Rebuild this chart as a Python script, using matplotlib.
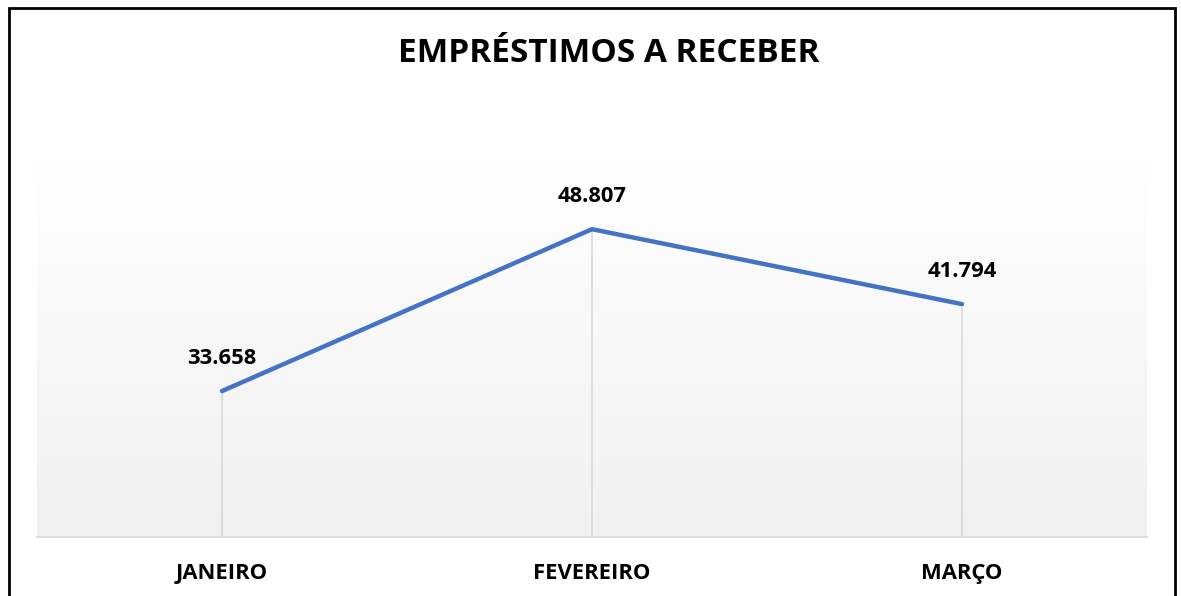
import numpy as np
import matplotlib
matplotlib.use('Agg')
import matplotlib.pyplot as plt
from matplotlib.patches import Rectangle

# ── Data ─────────────────────────────────────────────────────────────────────
meses   = ['JANEIRO', 'FEVEREIRO', 'MARÇO']
valores = [33658, 48807, 41794]
rotulos = ['33.658', '48.807', '41.794']

plt.rcParams['font.family'] = ['Open Sans', 'DejaVu Sans']

W, H = 1181, 596
fig = plt.figure(figsize=(W / 100, H / 100), dpi=100)
ax = fig.add_axes([37 / W, 59 / H, 1110 / W, 374 / H])

x = np.arange(len(meses))
ax.set_xlim(-0.5, len(meses) - 0.5)
ax.set_ylim(20000, 55000)

# gradient background (white top -> light gray bottom)
grad = np.linspace(0, 1, 256)[:, None]
cols = np.ones((256, 1, 3))
cols[:, 0, :] = (1 - grad) * 1.0 + grad * (240 / 255)
ax.imshow(cols, extent=[-0.5, len(meses) - 0.5, 20000, 55000],
          aspect='auto', origin='upper', zorder=0)

# drop lines
ax.vlines(x, 20000, valores, color='#d9d9d9', lw=1.2, zorder=1)
ax.plot(x, valores, color='#4472C4', lw=3.2, solid_capstyle='round',
        solid_joinstyle='round', zorder=3)

for xi, v, lab in zip(x, valores, rotulos):
    ax.annotate(lab, (xi, v), xytext=(0, 33), textcoords='offset pixels',
                ha='center', va='center', fontsize=15.8, fontweight='bold',
                color='black')

for s in ['top', 'right', 'left']:
    ax.spines[s].set_visible(False)
ax.spines['bottom'].set_color('#d9d9d9')
ax.spines['bottom'].set_linewidth(1.2)
ax.set_yticks([])
ax.set_xticks(x)
ax.set_xticklabels(meses, fontsize=15.8, fontweight='bold')
ax.tick_params(axis='x', length=0, pad=19)

fig.text(609 / W, 1 - 54 / H, 'EMPRÉSTIMOS A RECEBER', ha='center', va='center',
         fontsize=24, fontweight='bold')

# chart border
fig.patches.append(Rectangle((8.5 / W, -0.05), (1175 - 8.5) / W, 1 - 7.5 / H + 0.05,
                             transform=fig.transFigure, fill=False,
                             edgecolor='black', lw=2, zorder=10))

fig.savefig('out.png', dpi=100)
